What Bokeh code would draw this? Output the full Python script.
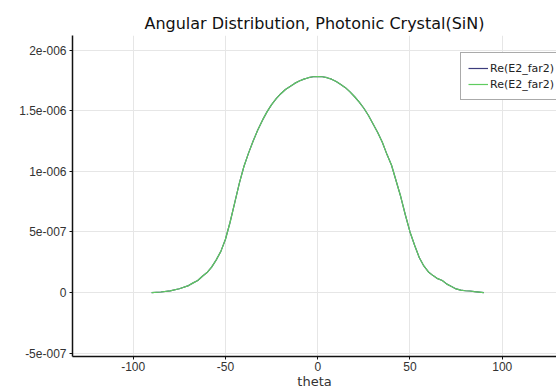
from bokeh.plotting import figure
from bokeh.models import Range1d, FixedTicker, Legend, LegendItem, Title
from bokeh.embed import file_html
from bokeh.resources import INLINE

theta = [-90, -85, -80, -75, -70, -67.5, -65, -62.5, -60, -57.5, -55, -52.5, -50, -47.5, -45, -42.5,
         -40, -37.5, -35, -32.5, -30, -27.5, -25, -22.5, -20, -17.5, -15, -12.5, -10, -7.5, -5, -2.5,
         0, 2.5, 5, 7.5, 10, 12.5, 15, 17.5, 20, 22.5, 25, 27.5, 30, 32.5, 35, 37.5, 40, 42.5, 45,
         47.5, 50, 52.5, 55, 57.5, 60, 62.5, 65, 67.5, 70, 72.5, 75, 77.5, 80, 82.5, 85, 87.5, 90]
e2_far2_e6 = [0.0, 0.005, 0.014, 0.032, 0.058, 0.08, 0.10, 0.135, 0.165, 0.21, 0.27, 0.34, 0.44, 0.58,
              0.74, 0.90, 1.04, 1.15, 1.25, 1.34, 1.42, 1.49, 1.55, 1.60, 1.64, 1.675, 1.70, 1.725,
              1.745, 1.76, 1.772, 1.78, 1.782, 1.78, 1.772, 1.76, 1.74, 1.715, 1.69, 1.655, 1.615,
              1.57, 1.52, 1.46, 1.39, 1.32, 1.24, 1.14, 1.05, 0.92, 0.79, 0.64, 0.50, 0.39, 0.29,
              0.22, 0.17, 0.14, 0.115, 0.10, 0.07, 0.05, 0.03, 0.02, 0.015, 0.013, 0.008, 0.004, 0.0]
e2_far2 = [v * 1e-6 for v in e2_far2_e6]
x_ticks = [-100, -50, 0, 50, 100]
x_tick_labels = ["-100", "-50", "0", "50", "100"]
y_ticks = [-5e-7, 0.0, 5e-7, 1e-6, 1.5e-6, 2e-6]
y_tick_labels = ["-5e-007", "0", "5e-007", "1e-006", "1.5e-006", "2e-006"]
series_names = ["Re(E2_far2)", "Re(E2_far2)"]

p = figure(width=556, height=392, output_backend="svg", toolbar_location=None,
           x_range=Range1d(-132.9, 129.4), y_range=Range1d(-5.27e-7, 2.12e-6),
           min_border_left=72, min_border_right=0, min_border_top=35, min_border_bottom=36)
p.title = Title(text="Angular Distribution, Photonic Crystal(SiN)", align="center",
                text_font="DejaVu Sans", text_font_size="16px", text_font_style="normal",
                text_color="#111111", offset=0, standoff=6)
p.outline_line_color = None

blue = p.line(theta, e2_far2, line_color="#3c3c7c", line_width=1.2)
green = p.line(theta, e2_far2, line_color="#5fcc5f", line_width=1.2)

p.xaxis.ticker = FixedTicker(ticks=x_ticks)
p.yaxis.ticker = FixedTicker(ticks=y_ticks)
p.xaxis.major_label_overrides = {v: s for v, s in zip(x_ticks, x_tick_labels)}
p.yaxis.major_label_overrides = {v: s for v, s in zip(y_ticks, y_tick_labels)}
for ax in (p.xaxis[0], p.yaxis[0]):
    ax.axis_line_color = "#111111"
    ax.axis_line_width = 1.5
    ax.major_tick_line_color = "#111111"
    ax.major_tick_in = 0
    ax.major_tick_out = 3
    ax.minor_tick_line_color = None
    ax.major_label_text_font = "Liberation Sans"
    ax.major_label_text_font_size = "12px"
    ax.major_label_text_color = "#333333"
    ax.major_label_standoff = 3
p.xaxis.major_label_standoff = 2
p.xaxis.axis_label = "theta"
p.xaxis.axis_label_text_font = "DejaVu Sans"
p.xaxis.axis_label_text_font_size = "13px"
p.xaxis.axis_label_text_font_style = "normal"
p.xaxis.axis_label_text_color = "#333333"
p.xaxis.axis_label_standoff = 0

p.xgrid.ticker = FixedTicker(ticks=x_ticks)
p.ygrid.ticker = FixedTicker(ticks=y_ticks)
p.grid.grid_line_color = "#e6e6e6"
p.grid.grid_line_width = 1

legend = Legend(items=[LegendItem(label=series_names[0], renderers=[blue]),
                       LegendItem(label=series_names[1], renderers=[green])],
                location=(388, 256), label_text_font="DejaVu Sans", label_text_font_size="11px",
                label_text_color="#222222", border_line_color="#555555", border_line_width=1,
                background_fill_color="white", background_fill_alpha=1.0,
                padding=7, spacing=0, margin=0, glyph_width=20, glyph_height=16,
                label_height=16, label_standoff=2)
p.add_layout(legend)

open("out.html", "w").write(file_html(p, INLINE))
